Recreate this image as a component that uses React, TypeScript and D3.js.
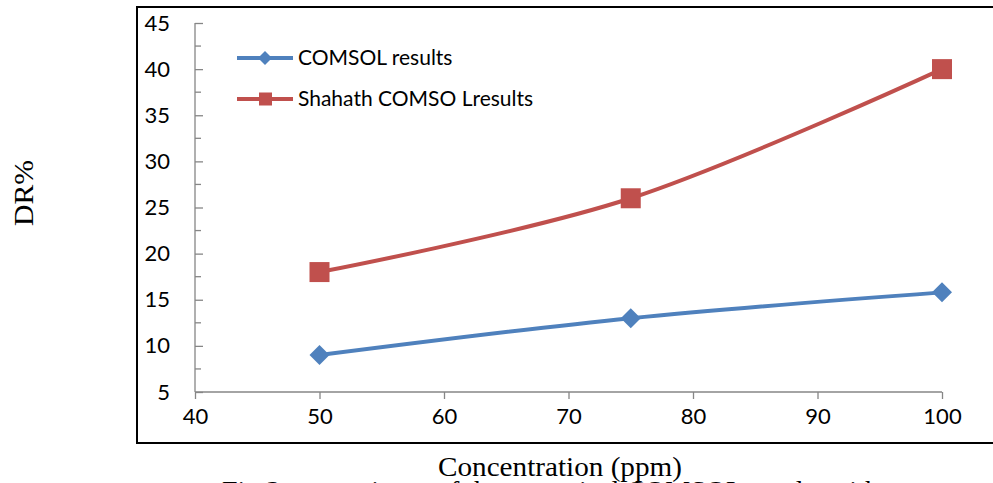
import React, { useEffect, useRef } from 'react';
import * as d3 from 'd3';

const concentration = [50, 75, 100];
const comsolResults = [9, 13, 15.8];
const shahathResults = [18, 26, 40];
const xTicks = [40, 50, 60, 70, 80, 90, 100];
const yTicks = [5, 10, 15, 20, 25, 30, 35, 40, 45];
const yMinorTicks = [7.5, 12.5, 17.5, 22.5, 27.5, 32.5, 37.5, 42.5];

const W = 993;
const H = 483;
const blue = '#4f81bd';
const red = '#c0504d';
const axisGray = '#868686';
const tickFont = 'Lato, "Open Sans", sans-serif';
const serif = '"Liberation Serif", "Times New Roman", serif';

export default function App() {
  const ref = useRef<SVGSVGElement>(null);

  useEffect(() => {
    if (!ref.current) return;
    const svg = d3.select(ref.current);
    svg.selectAll('*').remove();

    const x = d3.scaleLinear().domain([40, 100]).range([195, 942]);
    const y = d3.scaleLinear().domain([5, 45]).range([392, 23]);

    // outer frame
    svg
      .append('rect')
      .attr('x', 137)
      .attr('y', 7)
      .attr('width', W)
      .attr('height', 436)
      .attr('fill', 'none')
      .attr('stroke', '#000')
      .attr('stroke-width', 2);

    // x axis
    const gx = svg
      .append('g')
      .attr('transform', `translate(0, ${y(5)})`)
      .call(d3.axisBottom(x).tickValues(xTicks).tickSize(7).tickPadding(9));
    gx.selectAll('line, path').attr('stroke', axisGray).attr('stroke-width', 1.3);
    gx.select('.domain').attr('d', `M${x(40)},0H${x(100)}`);
    gx.selectAll('text')
      .attr('fill', '#000')
      .style('font-family', tickFont)
      .style('font-size', '22px');

    // y axis, ticks pointing inward
    const gy = svg
      .append('g')
      .attr('transform', `translate(${x(40)}, 0)`)
      .call(d3.axisLeft(y).tickValues(yTicks).tickSize(-8).tickPadding(25));
    gy.selectAll('line, path').attr('stroke', axisGray).attr('stroke-width', 1.3);
    gy.select('.domain').attr('d', `M0,${y(45)}V${y(5)}`);
    gy.selectAll('text')
      .attr('fill', '#000')
      .style('font-family', tickFont)
      .style('font-size', '22px');
    gy.selectAll('.minor')
      .data(yMinorTicks)
      .enter()
      .append('line')
      .attr('x1', 0)
      .attr('x2', 6)
      .attr('y1', (d) => y(d))
      .attr('y2', (d) => y(d))
      .attr('stroke', axisGray)
      .attr('stroke-width', 1.3);

    const line = d3
      .line<number>()
      .x((_, i) => x(concentration[i]))
      .y((d) => y(d))
      .curve(d3.curveCardinal.tension(0));

    svg
      .append('path')
      .datum(comsolResults)
      .attr('d', line)
      .attr('fill', 'none')
      .attr('stroke', blue)
      .attr('stroke-width', 4);

    svg
      .append('path')
      .datum(shahathResults)
      .attr('d', line)
      .attr('fill', 'none')
      .attr('stroke', red)
      .attr('stroke-width', 4);

    const diamond = (s: number) => `M0,${-s}L${s},0L0,${s}L${-s},0Z`;

    svg
      .selectAll('.dia')
      .data(comsolResults)
      .enter()
      .append('path')
      .attr('d', diamond(10))
      .attr('transform', (d, i) => `translate(${x(concentration[i])}, ${y(d)})`)
      .attr('fill', blue);

    svg
      .selectAll('.sq')
      .data(shahathResults)
      .enter()
      .append('rect')
      .attr('x', (_, i) => x(concentration[i]) - 10)
      .attr('y', (d) => y(d) - 10)
      .attr('width', 20)
      .attr('height', 20)
      .attr('fill', red);

    // legend
    const legend = [
      { name: 'COMSOL results', color: blue, shape: 'diamond', y: 58 },
      { name: 'Shahath COMSO Lresults', color: red, shape: 'square', y: 99 },
    ];
    legend.forEach((l) => {
      const g = svg.append('g').attr('transform', `translate(237, ${l.y})`);
      g.append('line')
        .attr('x1', 0)
        .attr('x2', 56)
        .attr('stroke', l.color)
        .attr('stroke-width', 4);
      if (l.shape === 'diamond') {
        g.append('path').attr('d', diamond(7)).attr('transform', 'translate(28,0)').attr('fill', l.color);
      } else {
        g.append('rect').attr('x', 22).attr('y', -6.5).attr('width', 13).attr('height', 13).attr('fill', l.color);
      }
      g.append('text')
        .attr('x', 61)
        .attr('y', 7)
        .style('font-family', tickFont)
        .style('font-size', '21px')
        .text(l.name);
    });

    // axis titles
    svg
      .append('text')
      .attr('transform', `translate(33, 193) rotate(-90)`)
      .attr('text-anchor', 'middle')
      .attr('textLength', 66)
      .attr('lengthAdjust', 'spacingAndGlyphs')
      .style('font-family', serif)
      .style('font-size', '28px')
      .text('DR%');

    svg
      .append('text')
      .attr('x', 438)
      .attr('y', 476)
      .attr('textLength', 244)
      .attr('lengthAdjust', 'spacingAndGlyphs')
      .style('font-family', serif)
      .style('font-size', '28px')
      .text('Concentration (ppm)');

    // figure caption, cut off by the bottom edge as in the source
    svg
      .append('text')
      .attr('x', 222)
      .attr('y', 500)
      .style('font-family', serif)
      .style('font-size', '28px')
      .text('Fig.3 comparisons of the numerical COMSOL results with');
  }, []);

  return (
    <svg
      ref={ref}
      width={W}
      height={H}
      style={{ position: 'absolute', left: 0, top: 0, background: '#fff' }}
    />
  );
}
